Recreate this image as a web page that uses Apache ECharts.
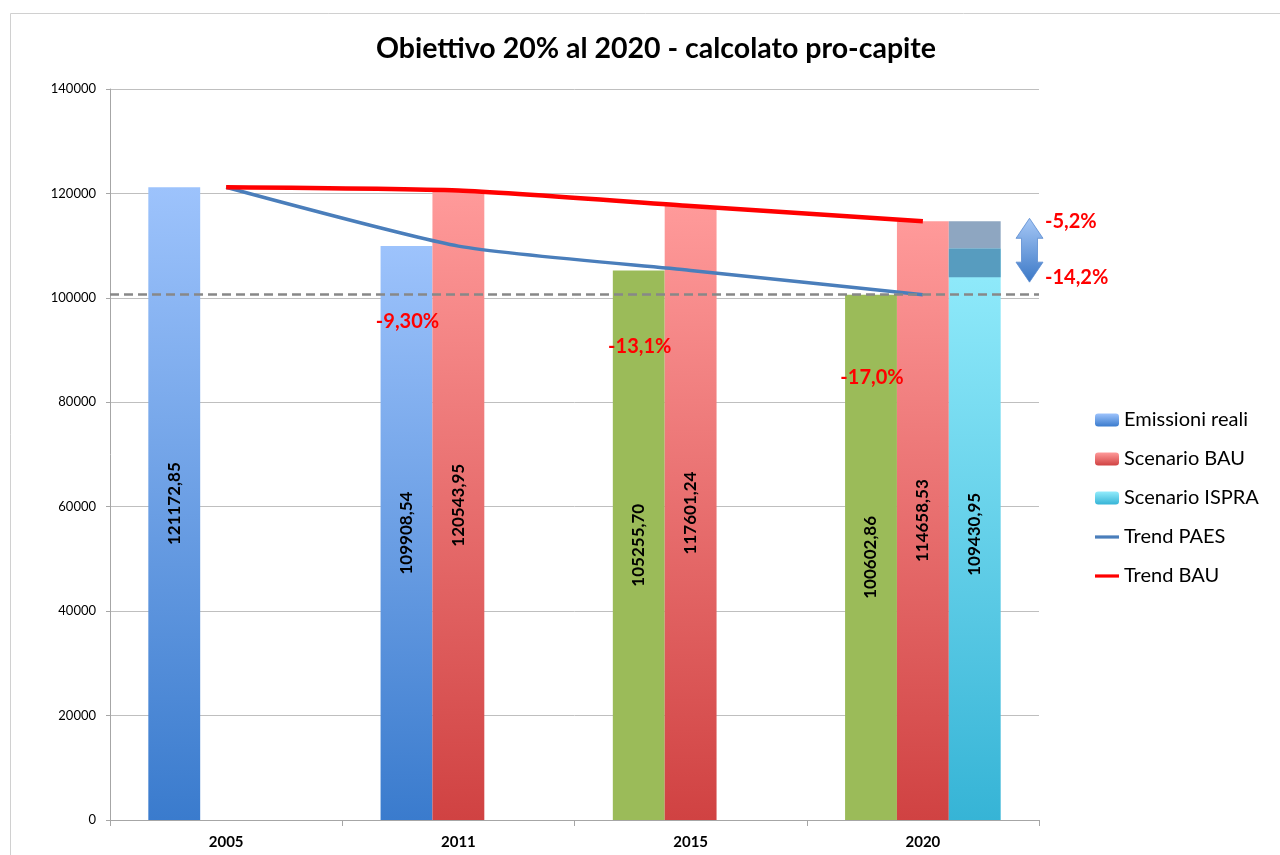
<!DOCTYPE html>
<html>
<head>
<meta charset="utf-8">
<script src="https://cdn.jsdelivr.net/npm/echarts@6/dist/echarts.min.js"></script>
<style>
html,body{margin:0;padding:0;background:#fff;}
#c{width:1280px;height:855px;}
</style>
</head>
<body>
<div id="c"></div>
<script>
// ---- data ----
const categories = ['2005', '2011', '2015', '2020'];
const emissioniReali = [121172.85, 109908.54, 105255.70, 100602.86];
const emissioniProjected = [false, false, true, true]; // drawn green
const scenarioBAU = [null, 120543.95, 117601.24, 114658.53];
const scenarioISPRA = [null, null, null, 109430.95];
const trendPAES = [121172.85, 109908.54, 105255.70, 100602.86];
const trendBAU = [121172.85, 120543.95, 117601.24, 114658.53];
const targetLine = 100602.86;
// 2020 ISPRA band: [low, split, high]
const ispraBand = [103966, 109430.95, 114658.53];
const reductionLabels = ['-9,30%', '-13,1%', '-17,0%'];
const reductionLabelY = [95400, 90600, 84800];
const bandLabels = ['-5,2%', '-14,2%'];
const yTicks = { min: 0, max: 140000, interval: 20000 };

// ---- styles ----
const FONT = 'Lato, "Open Sans", sans-serif';
function vgrad(c0, c1) {
  return new echarts.graphic.LinearGradient(0, 0, 0, 1, [
    { offset: 0, color: c0 }, { offset: 1, color: c1 }
  ]);
}
const blueGrad = vgrad('#9DC3FC', '#3A7BCD');
const redGrad = vgrad('#FF9A9A', '#D04242');
const cyanGrad = vgrad('#93ECFC', '#36B4D6');
const greenCol = '#9BBB59';
const fmt = v => (v == null ? '' : Number(v).toFixed(2).replace('.', ','));
const barLabel = {
  show: true, position: 'inside', rotate: 90, color: '#000',
  fontFamily: FONT, fontWeight: 'bold', fontSize: 17,
  formatter: p => fmt(p.value)
};
const CAT_GAP = 0.33;
const lineIcon = 'path://M0,0h26v3.5h-26z';

const chart = echarts.init(document.getElementById('c'), null, { renderer: 'canvas' });

const option = {
  backgroundColor: '#fff',
  animation: false,
  title: {
    text: 'Obiettivo 20% al 2020 - calcolato pro-capite',
    left: 651, top: 29, textAlign: 'center',
    textStyle: { fontFamily: FONT, fontWeight: 'bold', fontSize: 28.5, color: '#000' }
  },
  legend: {
    orient: 'vertical', left: 1090, top: 405,
    itemWidth: 24, itemHeight: 13, itemGap: 19,
    textStyle: { fontFamily: FONT, fontSize: 20, color: '#000' },
    data: [
      { name: 'Emissioni reali' }, { name: 'Scenario BAU' }, { name: 'Scenario ISPRA' },
      { name: 'Trend PAES', icon: lineIcon }, { name: 'Trend BAU', icon: lineIcon }
    ]
  },
  grid: { left: 110, right: 241, top: 89, bottom: 35 },
  xAxis: {
    type: 'category', data: categories,
    axisLine: { lineStyle: { color: '#A6A6A6', width: 1 } },
    axisTick: { show: true, length: 6, lineStyle: { color: '#A6A6A6' } },
    axisLabel: { fontFamily: FONT, fontWeight: 'bold', fontSize: 15, color: '#000', margin: 15 }
  },
  yAxis: {
    type: 'value', min: yTicks.min, max: yTicks.max, interval: yTicks.interval,
    axisLine: { show: true, lineStyle: { color: '#A6A6A6' } },
    axisTick: { show: true, length: 4, lineStyle: { color: '#A6A6A6' } },
    axisLabel: { fontFamily: FONT, fontSize: 13, color: '#000', margin: 14, formatter: v => String(v) },
    splitLine: { lineStyle: { color: '#BFBFBF', width: 1 } }
  },
  series: [
    {
      name: 'Emissioni reali', type: 'bar', barGap: '0%', barCategoryGap: (CAT_GAP * 100) + '%',
      itemStyle: { color: blueGrad },
      data: emissioniReali.map((v, i) => emissioniProjected[i]
        ? { value: v, itemStyle: { color: greenCol } } : v),
      label: barLabel,
      markLine: {
        silent: true, symbol: 'none', label: { show: false },
        lineStyle: { color: '#888', type: [9, 5], width: 2.5 },
        data: [{ yAxis: targetLine }]
      }
    },
    {
      name: 'Scenario BAU', type: 'bar', barGap: '0%', barCategoryGap: (CAT_GAP * 100) + '%',
      itemStyle: { color: redGrad }, data: scenarioBAU, label: barLabel
    },
    {
      name: 'Scenario ISPRA', type: 'bar', barGap: '0%', barCategoryGap: (CAT_GAP * 100) + '%',
      itemStyle: { color: cyanGrad }, data: scenarioISPRA, label: barLabel
    },
    {
      name: 'ISPRA band', type: 'custom', z: 3, silent: true,
      data: [[3, ispraBand[0], ispraBand[1], ispraBand[2]]],
      encode: { x: 0, y: [1, 2, 3] },
      renderItem: function (params, api) {
        const cat = api.value(0);
        const c = api.coord([cat, 0]);
        const bandW = api.size([1, 0])[0];
        const w = bandW * (1 - CAT_GAP) / 3;
        const x = c[0] + w / 2;
        const pLo = api.coord([cat, api.value(1)]);
        const pMid = api.coord([cat, api.value(2)]);
        const pHi = api.coord([cat, api.value(3)]);
        return {
          type: 'group', children: [
            { type: 'rect', shape: { x: x, y: pHi[1], width: w, height: pMid[1] - pHi[1] }, style: { fill: '#8EA6C1' } },
            { type: 'rect', shape: { x: x, y: pMid[1], width: w, height: pLo[1] - pMid[1] }, style: { fill: '#579CBF' } }
          ]
        };
      }
    },
    {
      name: 'Trend PAES', type: 'line', data: trendPAES, symbol: 'none', smooth: 0.2, z: 4,
      lineStyle: { color: '#4A7EBB', width: 3.5 }, itemStyle: { color: '#4A7EBB' }
    },
    {
      name: 'Trend BAU', type: 'line', data: trendBAU, symbol: 'none', smooth: 0.2, z: 4,
      lineStyle: { color: '#FF0000', width: 4.5 }, itemStyle: { color: '#FF0000' }
    }
  ]
};
chart.setOption(option);

// ---- annotations (text & arrow) ----
(function () {
  const annStyle = { fontFamily: FONT, fontWeight: 'bold', fill: '#FF0000' };
  const bandW = chart.convertToPixel({ xAxisIndex: 0 }, '2011') - chart.convertToPixel({ xAxisIndex: 0 }, '2005');
  const w = bandW * (1 - CAT_GAP) / 3;
  const graphics = [];
  [1, 2, 3].forEach((ci, k) => {
    const px = chart.convertToPixel({ xAxisIndex: 0, yAxisIndex: 0 }, [categories[ci], reductionLabelY[k]]);
    graphics.push({
      type: 'text', x: px[0] - w + 1, y: px[1], z: 100,
      style: Object.assign({ text: reductionLabels[k], fontSize: 20, align: 'center', verticalAlign: 'middle' }, annStyle)
    });
  });
  const yHi = chart.convertToPixel({ yAxisIndex: 0 }, ispraBand[2]);
  const yLo = chart.convertToPixel({ yAxisIndex: 0 }, ispraBand[0]);
  graphics.push({
    type: 'text', x: 1045, y: yHi, z: 100,
    style: Object.assign({ text: bandLabels[0], fontSize: 20, align: 'left', verticalAlign: 'middle' }, annStyle)
  });
  graphics.push({
    type: 'text', x: 1045, y: yLo, z: 100,
    style: Object.assign({ text: bandLabels[1], fontSize: 20, align: 'left', verticalAlign: 'middle' }, annStyle)
  });
  const ax = 1029.5, aTop = yHi - 3, aBot = yLo + 5, hw = 13.5, bwid = 8, hh = 20;
  graphics.push({
    type: 'polygon', z: 100,
    shape: {
      points: [
        [ax, aTop], [ax + hw, aTop + hh], [ax + bwid, aTop + hh], [ax + bwid, aBot - hh], [ax + hw, aBot - hh],
        [ax, aBot], [ax - hw, aBot - hh], [ax - bwid, aBot - hh], [ax - bwid, aTop + hh], [ax - hw, aTop + hh]
      ]
    },
    style: {
      fill: new echarts.graphic.LinearGradient(0, 0, 0, 1, [
        { offset: 0, color: '#A7C8F6' }, { offset: 1, color: '#3B78C6' }
      ]),
      stroke: '#5B8BD0', lineWidth: 0.8
    }
  });
  graphics.push({
    type: 'rect', shape: { x: 10.5, y: 13.5, width: 1400, height: 1000 },
    style: { fill: 'none', stroke: '#D0D0D0', lineWidth: 1 }, z: -1
  });
  chart.setOption({ graphic: graphics });
})();
</script>
</body>
</html>
